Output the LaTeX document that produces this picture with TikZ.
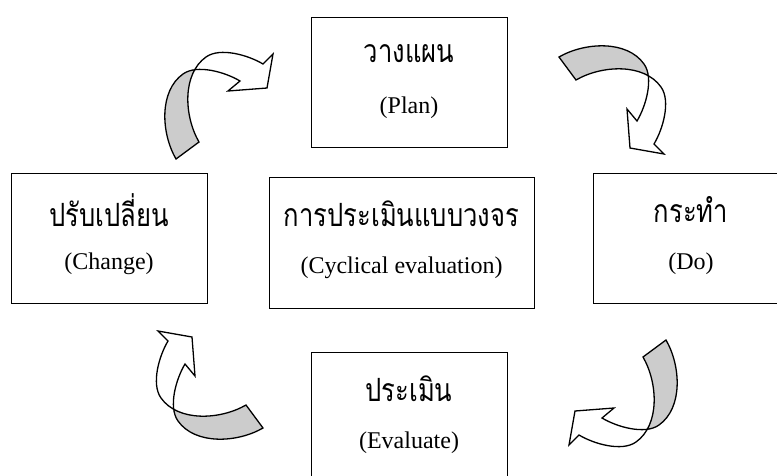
\documentclass[tikz,border=0pt]{standalone}
\usepackage{fontspec}
\setmainfont{Liberation Serif}
\newfontfamily\thaifont[Script=Thai,FakeStretch=0.8]{Loma}
\begin{document}
\begin{tikzpicture}[x=1pt,y=-1pt,
  box/.style={draw, line width=1.4pt, minimum width=196pt, minimum height=130pt, anchor=north west, inner sep=0pt},
  thaitxt/.style={font=\thaifont\fontsize{32}{36}\selectfont, inner sep=0pt},
  lattxt/.style={font=\fontsize{24}{28}\selectfont, inner sep=0pt},
  arrowline/.style={line width=1.3pt, line join=miter},
  arrowgray/.style={fill=black!20},
  cycarrow/.pic={
    \fill[white] (-91,71) .. controls (-106,45) and (-108,3) .. (-84,-14) .. controls (-70,-24) and (-42,-16) .. (-27,-7) -- (-39,3) -- (0,0) -- (6,-34) -- (-4,-24) .. controls (-19,-33) and (-47,-41) .. (-61,-31) .. controls (-85,-14) and (-83,28) .. (-68,54) -- cycle;
    \begin{scope}
      \clip (-0.7,79.5) -- (-143.3,-113.5) -- (-304,5.3) -- (-161.5,198.3) -- cycle;
      \fill[arrowgray] (-91,71) .. controls (-106,45) and (-108,3) .. (-84,-14) .. controls (-70,-24) and (-42,-16) .. (-27,-7) -- (-39,3) -- (0,0) -- (6,-34) -- (-4,-24) .. controls (-19,-33) and (-47,-41) .. (-61,-31) .. controls (-85,-14) and (-83,28) .. (-68,54) -- cycle;
    \end{scope}
    \draw[arrowline] (-91,71) .. controls (-106,45) and (-108,3) .. (-84,-14) .. controls (-70,-24) and (-42,-16) .. (-27,-7) -- (-39,3) -- (0,0) -- (6,-34) -- (-4,-24) .. controls (-19,-33) and (-47,-41) .. (-61,-31) .. controls (-85,-14) and (-83,28) .. (-68,54) -- cycle;
  }
]
\useasboundingbox (0,0) rectangle (777,475);
\clip (0,0) rectangle (777,475);

\node[box] (plan) at (311,17) {};
\node[box] (change) at (11,173) {};
\node[box, minimum width=265pt, minimum height=131pt] (center) at (269,177) {};
\node[box] (do) at (593,173) {};
\node[box] (eval) at (311,352) {};

\node[thaitxt] (planT) at (409,54) {วางแผน};
\node[lattxt] (planL) at (409,108) {(Plan)};
\node[thaitxt] (changeT) at (109,210) {ปรับเปลี่ยน};
\node[lattxt] (changeL) at (109,264) {(Change)};
\node[thaitxt] (centerT) at (401.5,214) {การประเมินแบบวงจร};
\node[lattxt] (centerL) at (401.5,268) {(Cyclical evaluation)};
\node[thaitxt] (doT) at (691,210) {กระทำ};
\node[lattxt] (doL) at (691,264) {(Do)};
\node[thaitxt] (evalT) at (409,389) {ประเมิน};
\node[lattxt] (evalL) at (409,443) {(Evaluate)};

\pic at (267,88) {cycarrow};
\pic[rotate=-90] at (630,148) {cycarrow};
\pic[rotate=180] at (575,411) {cycarrow};
\pic[rotate=90] at (192,337) {cycarrow};
\end{tikzpicture}
\end{document}
